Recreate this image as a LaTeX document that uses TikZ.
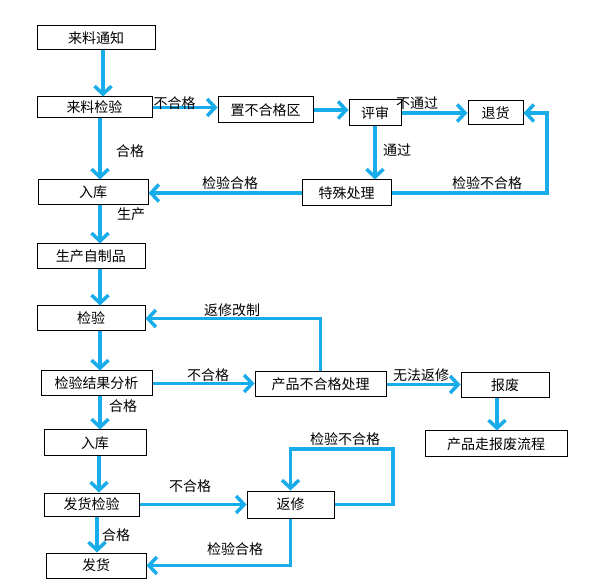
\documentclass[tikz,border=0pt]{standalone}
\usepackage{fontspec}
\setmainfont{Noto Sans CJK SC}
\usetikzlibrary{arrows.meta}
\definecolor{flow}{HTML}{18ACEA}
\begin{document}
\begin{tikzpicture}[x=1pt,y=-1pt,
  box/.style={draw=black,line width=1pt,inner sep=0pt,font=\fontsize{14}{16}\selectfont},
  lab/.style={inner sep=0pt,font=\fontsize{14}{16}\selectfont},
  arr/.style={draw=flow,line width=3.5pt,-{Straight Barb[length=8pt,width=17pt]}}]
\useasboundingbox[fill=white] (0,0) rectangle (606,588);
% boxes
\node[box,minimum width=118,minimum height=24] (n1) at (96,38) {来料通知};
\node[box,minimum width=115,minimum height=21] (n2) at (94.5,107.5) {来料检验};
\node[box,minimum width=95,minimum height=26] (n3) at (265.5,110) {置不合格区};
\node[box,minimum width=52,minimum height=26] (n4) at (375,113) {评审};
\node[box,minimum width=55,minimum height=24] (n5) at (495.5,113) {退货};
\node[box,minimum width=89,minimum height=26] (n6) at (346.5,193) {特殊处理};
\node[box,minimum width=110,minimum height=25] (n7) at (93,192.5) {入库};
\node[box,minimum width=108,minimum height=25] (n8) at (91,256.5) {生产自制品};
\node[box,minimum width=108,minimum height=25] (n9) at (91,318.5) {检验};
\node[box,minimum width=111,minimum height=25] (n10) at (96.5,383.5) {检验结果分析};
\node[box,minimum width=131,minimum height=25] (n11) at (320.5,384.5) {产品不合格处理};
\node[box,minimum width=88,minimum height=25] (n12) at (505,385.5) {报废};
\node[box,minimum width=142,minimum height=26] (n13) at (496,444) {产品走报废流程};
\node[box,minimum width=102,minimum height=26] (n14) at (95,443) {入库};
\node[box,minimum width=95,minimum height=23] (n15) at (91.5,504.5) {发货检验};
\node[box,minimum width=87,minimum height=27] (n16) at (290.5,504.5) {返修};
\node[box,minimum width=100,minimum height=25] (n17) at (96,565.5) {发货};
% connector corners
\coordinate (c1) at (547,113);
\coordinate (c2) at (393,449);
% connectors
\draw[arr] ([xshift=7]n1.south) -- ([xshift=7]n1.south |- n2.north);
\draw[arr] (n2.east) -- (n2.east -| n3.west);
\draw[arr] ([xshift=5.5]n2.south) -- ([xshift=5.5]n2.south |- n7.north);
\draw[arr] (n3.east) -- (n3.east -| n4.west);
\draw[arr] (n4.east) -- (n5.west);
\draw[arr] (n4.south) -- (n4.south |- n6.north);
\draw[arr] (n6.east) -| (c1) -- (n5.east);
\draw[arr] (n6.west) -- (n6.west -| n7.east);
\draw[arr] ([xshift=7]n7.south) -- ([xshift=7]n7.south |- n8.north);
\draw[arr] ([xshift=9]n8.south) -- ([xshift=9]n8.south |- n9.north);
\draw[arr] ([xshift=9]n9.south) -- ([xshift=9]n9.south |- n10.north);
\draw[arr] (n10.east) -- (n10.east -| n11.west);
\draw[arr] (n11.north) |- (n9.east);
\draw[arr] (n11.east) -- (n11.east -| n12.west);
\draw[arr] ([xshift=-8]n12.south) -- ([xshift=-8]n12.south |- n13.north);
\draw[arr] ([xshift=3.5]n10.south) -- ([xshift=3.5]n10.south |- n14.north);
\draw[arr] ([xshift=4]n14.south) -- ([xshift=4]n14.south |- n15.north);
\draw[arr] (n15.east) -- (n15.east -| n16.west);
\draw[arr] (n16.east) -| (c2) -| (n16.north);
\draw[arr] ([xshift=5.5]n15.south) -- ([xshift=5.5]n15.south |- n17.north);
\draw[arr] (n16.south) |- (n17.east);
% labels
\node[lab] (l1) at (174.5,103) {不合格};
\node[lab] (l2) at (130,151) {合格};
\node[lab] (l3) at (417,103) {不通过};
\node[lab] (l4) at (397,150) {通过};
\node[lab] (l5) at (487,183) {检验不合格};
\node[lab] (l6) at (230,183) {检验合格};
\node[lab] (l7) at (131,214) {生产};
\node[lab] (l8) at (232,310) {返修改制};
\node[lab] (l9) at (208,375) {不合格};
\node[lab] (l10) at (421,375) {无法返修};
\node[lab] (l11) at (123,406) {合格};
\node[lab] (l12) at (190,486) {不合格};
\node[lab] (l13) at (345,439) {检验不合格};
\node[lab] (l14) at (116,535) {合格};
\node[lab] (l15) at (235,549) {检验合格};
\end{tikzpicture}
\end{document}
